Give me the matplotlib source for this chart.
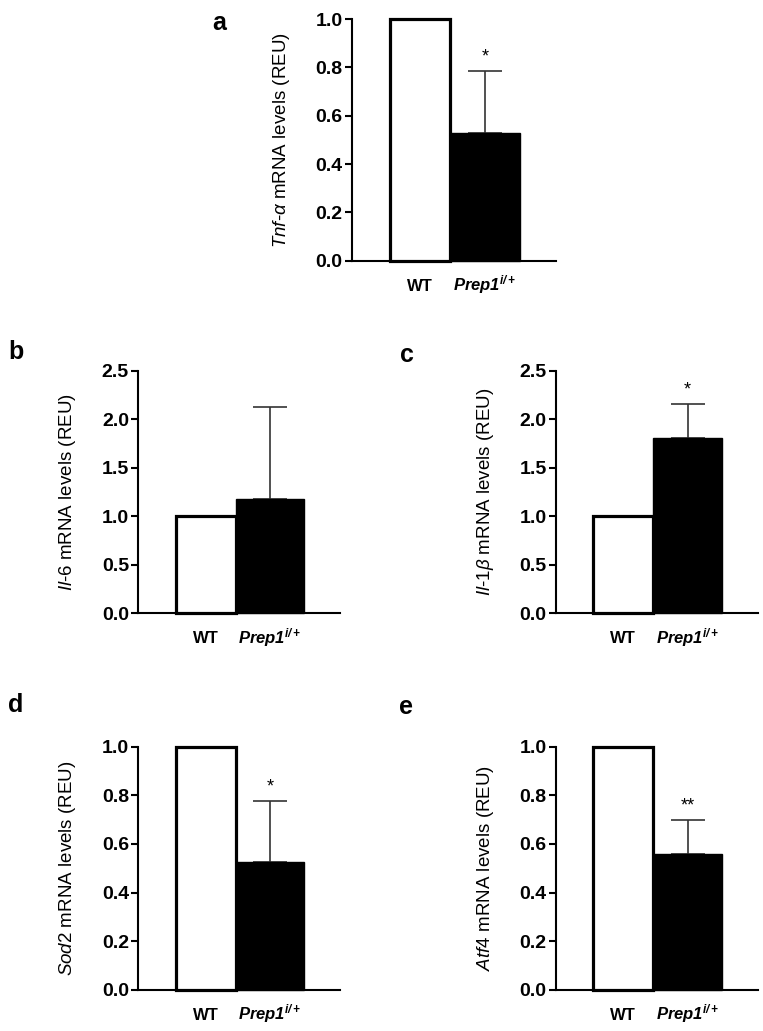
import numpy as np
import matplotlib
matplotlib.use('Agg')
import matplotlib.pyplot as plt

plt.rcParams['font.family'] = ['Liberation Sans', 'DejaVu Sans']
plt.rcParams['mathtext.fontset'] = 'custom'
plt.rcParams['mathtext.rm'] = 'Liberation Sans'
plt.rcParams['mathtext.it'] = 'Liberation Sans:italic'
plt.rcParams['mathtext.bf'] = 'Liberation Sans:bold'
plt.rcParams['mathtext.bfit'] = 'Liberation Sans:italic:bold'

# data (mean, upper SEM), WT is the reference = 1
groups = ['WT', r'$\mathbfit{Prep1}^{\mathbfit{i/+}}$']
tnf_mean = [1.0, 0.53]
tnf_err = [0.0, 0.255]
il6_mean = [1.0, 1.18]
il6_err = [0.0, 0.95]
il1b_mean = [1.0, 1.81]
il1b_err = [0.0, 0.35]
sod2_mean = [1.0, 0.525]
sod2_err = [0.0, 0.253]
atf4_mean = [1.0, 0.56]
atf4_err = [0.0, 0.14]

panels = [
    ('a', r'$\mathit{Tnf}$-$\mathit{\alpha}$ mRNA levels (REU)', tnf_mean, tnf_err, '*', 1.0, 0.2),
    ('b', r'$\mathit{Il}$-$\mathit{6}$ mRNA levels (REU)', il6_mean, il6_err, '', 2.5, 0.5),
    ('c', r'$\mathit{Il}$-$\mathit{1\beta}$ mRNA levels (REU)', il1b_mean, il1b_err, '*', 2.5, 0.5),
    ('d', r'$\mathit{Sod2}$ mRNA levels (REU)', sod2_mean, sod2_err, '*', 1.0, 0.2),
    ('e', r'$\mathit{Atf4}$ mRNA levels (REU)', atf4_mean, atf4_err, '**', 1.0, 0.2),
]

# axes rectangles in figure fractions
rects = [
    [0.461, 0.7471, 0.2675, 0.2344],
    [0.1809, 0.4051, 0.2647, 0.2353],
    [0.7283, 0.4051, 0.2647, 0.2353],
    [0.1809, 0.0398, 0.2647, 0.2360],
    [0.7283, 0.0398, 0.2647, 0.2360],
]
letter_pos = [(219, 23), (16, 352), (407, 355), (16, 705), (406, 707)]

W, H = 763, 1031
fig = plt.figure(figsize=(W / 100, H / 100), dpi=100)

widths = [0.90, 1.03]
xpos = [0.5 - widths[0] / 2, 0.5 + widths[1] / 2]

for (letter, ylab, mean, err, sig, ymax, step), rect, lp in zip(panels, rects, letter_pos):
    ax = fig.add_axes(rect)
    ax.bar(xpos[0], mean[0], width=widths[0], color='white', edgecolor='black',
           linewidth=2.3, clip_on=False, zorder=3)
    ax.bar(xpos[1], mean[1], width=widths[1], color='black', edgecolor='black',
           linewidth=1.0, clip_on=False, zorder=3)
    ax.errorbar(xpos[1], mean[1], yerr=[[0], [err[1]]], fmt='none', ecolor='#333333',
                elinewidth=1.2, capsize=12, capthick=1.2, zorder=2, clip_on=False)
    if sig:
        ax.annotate(sig, (xpos[1], mean[1] + err[1]), xytext=(0, 10),
                    textcoords='offset points', ha='center', va='center', fontsize=13)

    ax.set_xlim(-0.963, 2.067)
    ax.set_ylim(0, ymax)
    ticks = np.arange(0, ymax + step / 2, step)
    ax.set_yticks(ticks)
    ax.set_yticklabels(['%.1f' % v for v in ticks], fontsize=14, fontweight='bold')
    ax.set_xticks(xpos)
    ax.set_xticklabels(groups, fontsize=12, fontweight='bold')
    for t in ax.get_xticklabels():
        t.set_verticalalignment('baseline')
    ax.tick_params(axis='x', length=0, pad=21.5)
    ax.tick_params(axis='y', length=5, width=1.5, pad=1.5)
    for s in ['top', 'right']:
        ax.spines[s].set_visible(False)
    for s in ['left', 'bottom']:
        ax.spines[s].set_linewidth(1.5)
    ax.set_ylabel(ylab, fontsize=13.5, labelpad=17)

    fig.text(lp[0] / W, 1 - lp[1] / H, letter, fontsize=18, fontweight='bold',
             ha='center', va='center')

fig.savefig('out.png', dpi=100)
